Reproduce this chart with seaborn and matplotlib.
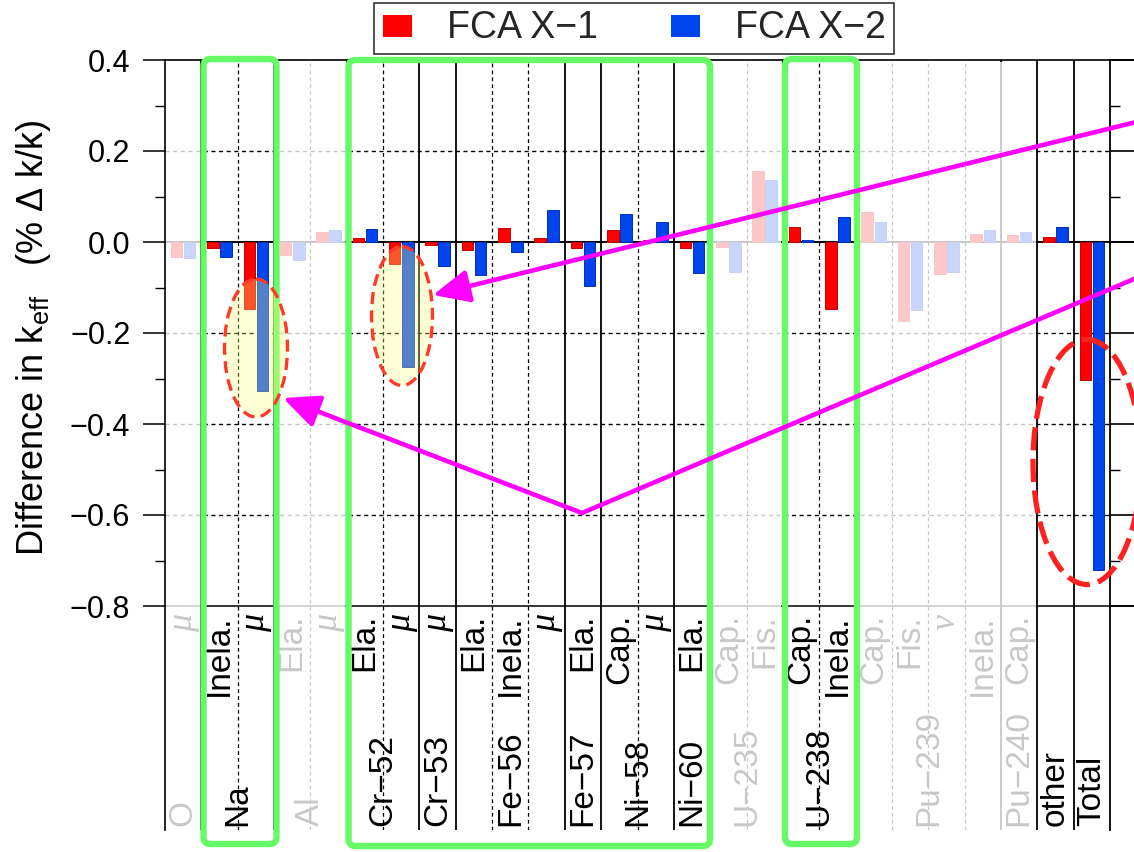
import matplotlib
matplotlib.use("Agg")
import matplotlib.pyplot as plt
import matplotlib.transforms as mtransforms
from matplotlib.patches import Ellipse, FancyBboxPatch, FancyArrowPatch, Rectangle
from matplotlib.lines import Line2D
from matplotlib.ticker import FuncFormatter
import numpy as np
import pandas as pd
import seaborn as sns

# ---- data -------------------------------------------------------------
isotopes = ["O", "Na", "Na", "Al", "Al", "Cr−52", "Cr−52", "Cr−53",
            "Fe−56", "Fe−56", "Fe−56", "Fe−57", "Ni−58", "Ni−58", "Ni−60",
            "U−235", "U−235", "U−238", "U−238",
            "Pu−239", "Pu−239", "Pu−239", "Pu−239", "Pu−240", "other", "Total"]
reactions = ["μ", "Inela.", "μ", "Ela.", "μ", "Ela.", "μ", "μ",
             "Ela.", "Inela.", "μ", "Ela.", "Cap.", "μ", "Ela.",
             "Cap.", "Fis.", "Cap.", "Inela.",
             "Cap.", "Fis.", "ν", "Inela.", "Cap.", "", ""]
fca_x1 = [-0.033, -0.013, -0.147, -0.028, 0.022, 0.009, -0.048, -0.007,
          -0.018, 0.030, 0.008, -0.013, 0.026, 0.005, -0.013,
          -0.011, 0.155, 0.034, -0.147,
          0.066, -0.173, -0.071, 0.018, 0.015, 0.010, -0.303]
fca_x2 = [-0.035, -0.033, -0.327, -0.040, 0.026, 0.029, -0.275, -0.053,
          -0.073, -0.022, 0.070, -0.097, 0.062, 0.045, -0.068,
          -0.066, 0.137, 0.005, 0.055,
          0.044, -0.149, -0.066, 0.026, 0.022, 0.033, -0.721]
series_names = ["FCA X−1", "FCA X−2"]
muted_isotopes = ["O", "Al", "U−235", "Pu−239", "Pu−240"]

y_major = [-0.8, -0.6, -0.4, -0.2, 0.0, 0.2, 0.4]
y_minor = [-0.7, -0.5, -0.3, -0.1, 0.1, 0.3]
grid_levels = [0.2, -0.2, -0.4, -0.6]

RED, BLUE = "#FF0000", "#0044EE"
RED_EDGE, BLUE_EDGE = "#C80000", "#0030B8"

# ---- frame ------------------------------------------------------------
W, H = 1134, 852
sns.set_theme(style="white")
plt.rcParams["font.family"] = ["Liberation Sans", "DejaVu Sans"]
plt.rcParams["mathtext.fontset"] = "custom"
plt.rcParams["mathtext.rm"] = "Liberation Sans"
plt.rcParams["mathtext.it"] = "Liberation Sans:italic"

n = len(isotopes)
keys = [f"{i}:{iso} {rx}" for i, (iso, rx) in enumerate(zip(isotopes, reactions))]
df = pd.DataFrame({
    "key": keys * 2,
    "value": fca_x1 + fca_x2,
    "series": [series_names[0]] * n + [series_names[1]] * n,
})

Y_TOP = 0.4
Y_BOT = -(830 - 242) / 455.0   # label strip below the -0.8 line

fig = plt.figure(figsize=(W / 100, H / 100), dpi=100)
fig.patch.set_facecolor("white")
ax = fig.add_axes([165 / W, 1 - 830 / H, (1110 - 165) / W, (830 - 60) / H])
ax2 = fig.add_axes([1110 / W, 1 - 830 / H, 0.3, (830 - 60) / H])

# ---- bars -------------------------------------------------------------
sns.barplot(data=df, x="key", y="value", hue="series", order=keys,
            hue_order=series_names, palette=[RED, BLUE], saturation=1,
            width=0.72, gap=0.12, errorbar=None, ax=ax, zorder=2,
            linewidth=0.7)
for bar_container, ec in zip(ax.containers, [RED_EDGE, BLUE_EDGE]):
    for b in bar_container:
        b.set_edgecolor(ec)

ax.set_xlim(-0.5, n - 0.5)
ax.set_ylim(Y_BOT, Y_TOP)
ax.set_xlabel("")
ax.set_ylabel("")
ax.tick_params(axis="x", bottom=False, labelbottom=False)

fmt = FuncFormatter(lambda v, p: f"{v:.1f}".replace("-", "−") if abs(v) > 1e-9 else "0.0")
ax.set_yticks(y_major)
ax.set_yticks(y_minor, minor=True)
ax.yaxis.set_major_formatter(fmt)
ax.tick_params(axis="y", which="major", direction="out", length=16, width=1.1,
               pad=9, labelsize=22, colors="black", left=True)
ax.tick_params(axis="y", which="minor", direction="out", length=7, width=1.0,
               colors="black", left=True)

for side in ["left", "top"]:
    ax.spines[side].set_visible(True)
    ax.spines[side].set_color("black")
    ax.spines[side].set_linewidth(1.2)
for side in ["right", "bottom"]:
    ax.spines[side].set_visible(False)

# horizontal guides
for yv in grid_levels:
    ax.axhline(yv, color="black", lw=1.0, ls=(0, (3, 2.5)), zorder=1)
ax.axhline(0.0, color="black", lw=1.4, zorder=1.5)
ax.axhline(-0.8, color="black", lw=1.1, zorder=1.5)

# column separators: solid between nuclides, dashed within a nuclide
for i in range(n - 1):
    same = isotopes[i] == isotopes[i + 1]
    ax.axvline(i + 0.5, color="black",
               lw=0.9 if same else 1.3,
               ls=(0, (3, 2.5)) if same else "-", zorder=1)

# reaction labels (top of strip) and nuclide labels (bottom of strip)
for i, rx in enumerate(reactions):
    if not rx:
        continue
    if rx in ("μ", "ν"):
        ax.text(i, -0.818, rx, rotation=90, ha="center", va="top", fontsize=26,
                family=["Liberation Serif", "DejaVu Serif"], style="italic",
                color="black", zorder=3)
    else:
        ax.text(i, -0.818, rx, rotation=90, ha="center", va="top", fontsize=24,
                color="black", zorder=3)

runs = []
start = 0
for i in range(1, n + 1):
    if i == n or isotopes[i] != isotopes[start]:
        runs.append((isotopes[start], start, i - 1))
        start = i
for iso, a, b in runs:
    ax.text((a + b) / 2, Y_BOT + 0.008, iso, rotation=90, ha="center",
            va="bottom", fontsize=24, color="black", zorder=3)

# wash out the nuclides that are not discussed
muted_runs = []
for iso, a, b in runs:
    if iso in muted_isotopes:
        if muted_runs and muted_runs[-1][1] == a - 1:
            muted_runs[-1][1] = b
        else:
            muted_runs.append([a, b])
for a, b in muted_runs:
    x0 = a - 0.5 + (0.03 if a == 0 else 0.04)
    x1 = b + 0.5 - 0.04
    ax.add_patch(Rectangle((x0, Y_BOT), x1 - x0, Y_TOP - 0.004 - Y_BOT,
                           facecolor="white", edgecolor="none", alpha=0.79,
                           zorder=5))

# ---- neighbouring panel edge -----------------------------------------
ax2.set_facecolor("none")
ax2.set_xlim(0, 1)
ax2.set_ylim(Y_BOT, Y_TOP)
ax2.set_yticks(y_major)
ax2.set_yticks(y_minor, minor=True)
ax2.tick_params(axis="y", which="major", direction="in", length=19, width=1.2,
                labelleft=False, left=True, colors="black")
ax2.tick_params(axis="y", which="minor", direction="in", length=7, width=1.0,
                left=True, colors="black")
ax2.tick_params(axis="x", bottom=False, labelbottom=False)
for side in ["left", "top"]:
    ax2.spines[side].set_visible(True)
    ax2.spines[side].set_color("black")
    ax2.spines[side].set_linewidth(1.3)
for side in ["right", "bottom"]:
    ax2.spines[side].set_visible(False)
ax2.axhline(0.0, color="black", lw=1.4)
ax2.axhline(-0.8, color="black", lw=1.1)

# ---- legend -----------------------------------------------------------
sns.move_legend(ax, "upper center", bbox_to_anchor=(634 / W, 1 - 3 / H),
                bbox_transform=fig.transFigure, ncol=2, title=None,
                frameon=True, fancybox=False, fontsize=27,
                handlelength=0.8, handleheight=0.55, handletextpad=0.95,
                columnspacing=1.9, borderpad=0.2, borderaxespad=0)
leg = ax.get_legend()
leg.get_frame().set_edgecolor("black")
leg.get_frame().set_linewidth(1.2)
leg.set_zorder(10)

# ---- y label ------------------------------------------------------------
fig.text(34 / W, 1 - 338 / H, "Difference in k$_{\\mathrm{eff}}$   (% Δ k/k)",
         rotation=90, ha="center", va="center", fontsize=26,
         color="black")

# ---- highlight overlays (pixel coordinates) -----------------------------
px = mtransforms.Affine2D().scale(1 / W, -1 / H).translate(0, 1) + fig.transFigure
GREEN = "#66FA66"
for (x0, x1, y0, y1) in [(203.5, 276.5, 59, 844), (348.5, 710, 60, 846), (785, 857, 59, 844)]:
    fig.add_artist(FancyBboxPatch((x0, y0), x1 - x0, y1 - y0,
                                  boxstyle="round,pad=0,rounding_size=7",
                                  transform=px, facecolor="none",
                                  edgecolor=GREEN, lw=4.6, zorder=5))

for (cx, cy, w, h) in [(256, 348, 63, 138), (402, 316, 61, 139)]:
    fig.add_artist(Ellipse((cx, cy), w, h, transform=px,
                           facecolor=(1.0, 1.0, 0.5, 0.33),
                           edgecolor="#FF3A2A", lw=2.4,
                           ls=(0, (3.6, 1.9)), zorder=6))
fig.add_artist(Ellipse((1087, 462), 108, 245, transform=px, facecolor="none",
                       edgecolor="#FF2020", lw=3.8, ls=(0, (4.4, 1.6)), zorder=6))

MAG = "#FF00FF"
vx, vy = 582, 513
fig.add_artist(Line2D([vx, 1220], [vy, vy - 0.4239 * (1220 - vx)], transform=px,
                      color=MAG, lw=3.3, solid_capstyle="round", zorder=7))
fig.add_artist(FancyArrowPatch(posA=(vx, vy), posB=(283, 398), transform=px,
                               arrowstyle="-|>,head_length=1.1,head_width=0.5",
                               mutation_scale=20, color=MAG, lw=3.3,
                               shrinkA=0, shrinkB=0, zorder=7))
fig.add_artist(FancyArrowPatch(posA=(1220, 295 - 0.246 * (1220 - 433)), posB=(433, 295),
                               transform=px,
                               arrowstyle="-|>,head_length=1.1,head_width=0.5",
                               mutation_scale=20, color=MAG, lw=3.3,
                               shrinkA=0, shrinkB=0, zorder=7))

fig.savefig("out.png", dpi=100, facecolor="white")
